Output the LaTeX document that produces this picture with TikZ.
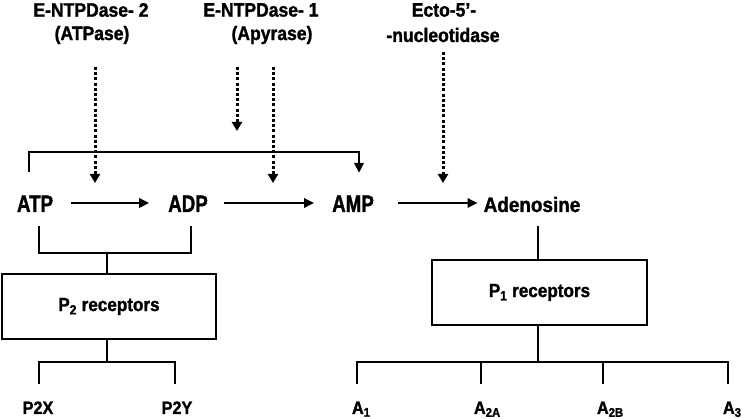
\documentclass[tikz,border=0pt]{standalone}
\usepackage{fontspec}
\setmainfont{Liberation Sans}[FakeStretch=0.9, BoldFeatures={FakeBold=1.4}]
\newfontfamily\narrowfont{Liberation Sans}[FakeStretch=0.78, BoldFeatures={FakeBold=1.4}]
\usetikzlibrary{arrows.meta}

\begin{document}
\begin{tikzpicture}[x=1pt, y=-1pt]
\tikzset{ >={Triangle[width=9pt,length=10pt]}, inner sep=0pt, outer sep=0pt,
  hdr/.style={font=\bfseries\fontsize{19.5}{22}\selectfont},
  mol/.style={font=\narrowfont\bfseries\fontsize{24}{26}\selectfont, anchor=base},
  ado/.style={font=\bfseries\fontsize{21}{24}\selectfont, anchor=base},
  sub/.style={font=\bfseries\fontsize{18}{21}\selectfont, anchor=base},
  rbox/.style={draw, line width=1.6pt, font=\bfseries\fontsize{19}{22}\selectfont},
  line/.style={line width=2.6pt},
  enz/.style={line width=3pt, dash pattern=on 3pt off 2.2pt, -{Triangle[width=10pt,length=9pt]}},
}

\useasboundingbox (0,0) rectangle (742,419);
%\draw [lightgray, dashed](0,0) grid[step=50] (742,419);

% enzymes
\node [hdr] (ntpd2)   at (91,10)  {E-NTPDase- 2};
\node [hdr] (atpase)  at (92,35)  {(ATPase)};
\node [hdr] (ntpd1)   at (261,10) {E-NTPDase- 1};
\node [hdr] (apyrase) at (272,35) {(Apyrase)};
\node [hdr] (ecto)    at (444,10) {Ecto-5’-};
\node [hdr] (nucl)    at (443,35) {-nucleotidase};

% nucleotides
\node [mol] (atp) at (35,212)  {ATP};
\node [mol] (adp) at (188,212) {ADP};
\node [mol] (amp) at (353,212) {AMP};
\node [ado] (ado) at (532,212) {Adenosine};

\coordinate (row) at (0,203);
\draw [->, line, shorten <=18pt, shorten >=19pt] (atp.east |- row) -- (adp.west |- row);
\draw [->, line, shorten <=16pt, shorten >=18pt] (adp.east |- row) -- (amp.west |- row);
\draw [->, line, shorten <=24pt, shorten >=6pt]  (amp.east |- row) -- (ado.west |- row);

% dotted enzyme arrows
\coordinate (e1s) at (95,67);  \coordinate (e1e) at (95,183);
\coordinate (e2s) at (237,67); \coordinate (e2e) at (237,131);
\coordinate (e3s) at (273,67); \coordinate (e3e) at (273,183);
\coordinate (e4s) at (443,52); \coordinate (e4e) at (443,183);

\draw [enz] (e1s) -- (e1e);
\draw [enz] (e2s) -- (e2e);
\draw [enz] (e3s) -- (e3e);
\draw [enz] (e4s) -- (e4e);

% ATP -> AMP bracket
\coordinate (bl) at (29,172);
\coordinate (br) at (359,173);
\draw [->, line] (bl) -- (29,152) -| (br);

% P2 receptors
\node [rbox, minimum width=214, minimum height=65] (p2) at (109,306.5) {P\textsubscript{2} receptors};
\coordinate (atpb) at (39,226);
\coordinate (adpb) at (191,226);
\coordinate (p2j)  at (107,253);
\draw [line] (atpb) |- (adpb |- p2j) -- (adpb);
\draw [line] (p2j) -- (p2j |- p2.north);

\node [sub] (p2x) at (38,414)  {P2X};
\node [sub] (p2y) at (177,414) {P2Y};
\coordinate (p2d) at (107,362);
\draw [line] (p2.south -| p2d) -- (p2d);
\draw [line] (39,384) |- (175,362) -- (175,384);

% P1 receptors
\node [rbox, minimum width=215, minimum height=65] (p1) at (539.5,292.5) {P\textsubscript{1} receptors};
\draw [line] (538,226) -- (538,260);
\coordinate (p1d) at (538,362);
\draw [line] (p1d |- p1.south) -- (p1d);
\draw [line] (357,384) |- (728,362) -- (728,384);
\draw [line] (481,362) -- (481,384);
\draw [line] (603,362) -- (603,384);

\node [sub, anchor=base west] (a1)  at (352,414) {A\textsubscript{1}};
\node [sub, anchor=base west] (a2a) at (474,414) {A\textsubscript{2A}};
\node [sub, anchor=base west] (a2b) at (597,414) {A\textsubscript{2B}};
\node [sub, anchor=base west] (a3)  at (723,414) {A\textsubscript{3}};

\end{tikzpicture}
\end{document}
